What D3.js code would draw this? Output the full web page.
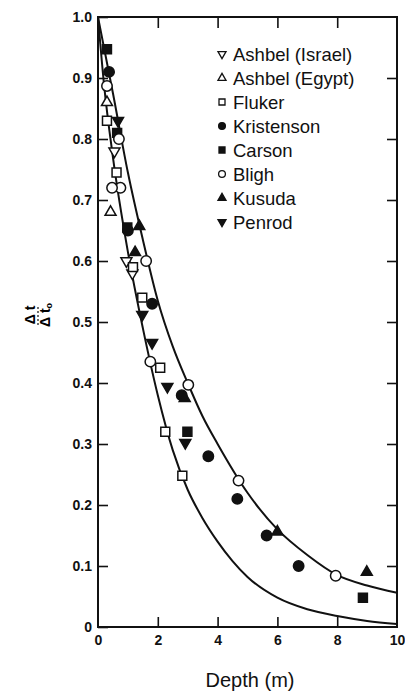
<!doctype html>
<html>
  <head>
    <meta charset="utf-8">
    <script src="https://cdn.jsdelivr.net/npm/d3@7"></script>
    <style>
      body { margin: 0; background: white; }
      svg { display: block; font-family: "Liberation Sans", Arial, sans-serif; }
      .tick text { font-weight: bold; font-size: 14px; fill: #111; }
      .tick line { stroke: #111; stroke-width: 1.6; }
    </style>
  </head>
  <body>
    <svg class="chart"></svg>
    <script>
      // values: [depth (m), ratio]
      const ashbelIsrael = [[0.55, 0.78], [0.95, 0.60], [1.15, 0.58]]
      const ashbelEgypt = [[0.42, 0.68], [0.3, 0.86]]
      const fluker = [[0.3, 0.83], [0.62, 0.745], [1.17, 0.59], [1.48, 0.54], [2.08, 0.425], [2.25, 0.32], [2.82, 0.248]]
      const kristenson = [[0.37, 0.91], [1.0, 0.65], [1.81, 0.53], [2.8, 0.38], [3.69, 0.28], [4.66, 0.21], [5.64, 0.15], [6.71, 0.10]]
      const carson = [[0.3, 0.947], [0.64, 0.81], [0.98, 0.655], [2.99, 0.32], [8.86, 0.048]]
      const bligh = [[0.3, 0.887], [0.7, 0.80], [0.75, 0.72], [0.47, 0.72], [1.61, 0.60], [1.75, 0.435], [3.02, 0.397], [4.7, 0.24], [7.95, 0.084]]
      const kusuda = [[1.38, 0.657], [1.24, 0.614], [2.9, 0.375], [6.0, 0.156], [8.99, 0.09]]
      const penrod = [[0.67, 0.83], [1.48, 0.512], [1.81, 0.466], [2.32, 0.394], [2.92, 0.302]]

      // the two fitted curves
      const upperCurve = [[0, 1.0], [0.5, 0.875], [1.0, 0.745], [1.5, 0.635], [2.0, 0.535], [2.5, 0.46], [3.0, 0.4], [3.5, 0.345], [4.0, 0.3], [5.0, 0.22], [6.0, 0.16], [7.0, 0.118], [8.0, 0.085], [9.0, 0.068], [10, 0.056]]
      const lowerCurve = [[0, 1.0], [0.2, 0.89], [0.5, 0.77], [1.0, 0.615], [1.5, 0.49], [2.0, 0.38], [2.5, 0.29], [3.0, 0.225], [3.5, 0.178], [4.0, 0.14], [4.5, 0.108], [5.0, 0.082], [6.0, 0.048], [7.0, 0.029], [8.0, 0.018], [9.0, 0.01], [10, 0.005]]

      const seriesNames = ["Ashbel (Israel)", "Ashbel (Egypt)", "Fluker", "Kristenson", "Carson", "Bligh", "Kusuda", "Penrod"]
      const xTicks = [0, 2, 4, 6, 8, 10]
      const yTicks = [0, 0.1, 0.2, 0.3, 0.4, 0.5, 0.6, 0.7, 0.8, 0.9, 1.0]

      const series = [
        { name: seriesNames[0], data: ashbelIsrael, type: d3.symbolTriangle, rot: 180, fill: "white" },
        { name: seriesNames[1], data: ashbelEgypt, type: d3.symbolTriangle, rot: 0, fill: "white" },
        { name: seriesNames[2], data: fluker, type: d3.symbolSquare, rot: 0, fill: "white" },
        { name: seriesNames[3], data: kristenson, type: d3.symbolCircle, rot: 0, fill: "#111" },
        { name: seriesNames[4], data: carson, type: d3.symbolSquare, rot: 0, fill: "#111" },
        { name: seriesNames[5], data: bligh, type: d3.symbolCircle, rot: 0, fill: "white" },
        { name: seriesNames[6], data: kusuda, type: d3.symbolTriangle, rot: 0, fill: "#111" },
        { name: seriesNames[7], data: penrod, type: d3.symbolTriangle, rot: 180, fill: "#111" }
      ]

      const W = 405, H = 691
      const plotLeft = 98, plotRight = 397, plotTop = 17, plotBottom = 627

      const x = d3.scaleLinear().domain([0, 10]).range([plotLeft, plotRight])
      const y = d3.scaleLinear().domain([0, 1]).range([plotBottom, plotTop])

      const svg = d3.select(".chart")
          .attr("width", W)
          .attr("height", H)

      svg.append("rect").attr("width", W).attr("height", H).attr("fill", "white")

      // axes, ticks pointing inward
      svg.append("g")
          .attr("transform", "translate(" + plotLeft + ",0)")
          .call(d3.axisLeft(y).tickValues(yTicks).tickSize(-10).tickPadding(6)
                  .tickFormat(d => d === 0 ? "0" : d3.format(".1f")(d)))
          .call(g => g.select(".domain").remove())
          .call(g => g.selectAll("text").attr("dy", "0.35em"))

      svg.append("g")
          .attr("transform", "translate(" + plotRight + ",0)")
          .call(d3.axisRight(y).tickValues(yTicks.slice(1, -1)).tickSize(-10).tickFormat(""))
          .call(g => g.select(".domain").remove())

      svg.append("g")
          .attr("transform", "translate(0," + plotTop + ")")
          .call(d3.axisTop(x).tickValues([2, 4, 6, 8]).tickSize(-11).tickFormat(""))
          .call(g => g.select(".domain").remove())

      svg.append("g")
          .attr("transform", "translate(0," + plotBottom + ")")
          .call(d3.axisBottom(x).tickValues(xTicks).tickSize(-10).tickPadding(8))
          .call(g => g.select(".domain").remove())
          .call(g => g.selectAll(".tick").filter(d => d === 0 || d === 10).select("line").remove())

      svg.append("rect")
          .attr("x", plotLeft).attr("y", plotTop)
          .attr("width", plotRight - plotLeft).attr("height", plotBottom - plotTop)
          .attr("fill", "none")
          .attr("stroke", "#111")
          .attr("stroke-width", 2)

      // curves
      const line = d3.line()
          .x(d => x(d[0]))
          .y(d => y(d[1]))
          .curve(d3.curveMonotoneX)

      svg.selectAll(".curve")
        .data([upperCurve, lowerCurve])
        .enter().append("path")
          .attr("class", "curve")
          .attr("d", line)
          .attr("fill", "none")
          .attr("stroke", "#111")
          .attr("stroke-width", 2)

      // points
      series.forEach(s => {
        const size = s.type === d3.symbolCircle ? 85 : (s.type === d3.symbolSquare ? 80 : 52)
        svg.append("g").selectAll("path")
          .data(s.data)
          .enter().append("path")
            .attr("d", d3.symbol().type(s.type).size(size))
            .attr("transform", d => "translate(" + x(d[0]) + "," + y(d[1]) + ") rotate(" + s.rot + ")")
            .attr("fill", s.fill)
            .attr("stroke", "#111")
            .attr("stroke-width", 1.5)
      })

      // legend
      const legend = svg.append("g")
          .attr("transform", "translate(222,54)")

      series.forEach((s, i) => {
        const row = legend.append("g").attr("transform", "translate(0," + (i * 24) + ")")
        row.append("path")
          .attr("d", d3.symbol().type(s.type).size(s.type === d3.symbolCircle ? 36 : (s.type === d3.symbolSquare ? 36 : 28)))
          .attr("transform", "rotate(" + s.rot + ")")
          .attr("fill", s.fill)
          .attr("stroke", "#111")
          .attr("stroke-width", 1.3)
        row.append("text")
          .attr("x", 11)
          .attr("dy", "0.36em")
          .attr("font-size", "18.5px")
          .attr("fill", "#111")
          .text(s.name)
      })

      // axis titles
      svg.append("text")
          .attr("x", 250)
          .attr("y", 687)
          .attr("text-anchor", "middle")
          .attr("font-size", "20px")
          .attr("fill", "#111")
          .text("Depth (m)")

      const yLabel = svg.append("g")
          .attr("transform", "translate(38,315) rotate(-90)")
      yLabel.append("text")
          .attr("y", -3)
          .attr("text-anchor", "middle")
          .attr("font-size", "14px")
          .attr("font-weight", "bold")
          .text("Δ t")
      yLabel.append("line")
          .attr("x1", -10).attr("x2", 10)
          .attr("stroke", "#111").attr("stroke-width", 1.2)
          .attr("stroke-dasharray", "2,2")
      yLabel.append("text")
          .attr("y", 12)
          .attr("text-anchor", "middle")
          .attr("font-size", "14px")
          .attr("font-weight", "bold")
          .html("Δ t<tspan font-size='9px' dy='2'>o</tspan>")
    </script>
  </body>
</html>
